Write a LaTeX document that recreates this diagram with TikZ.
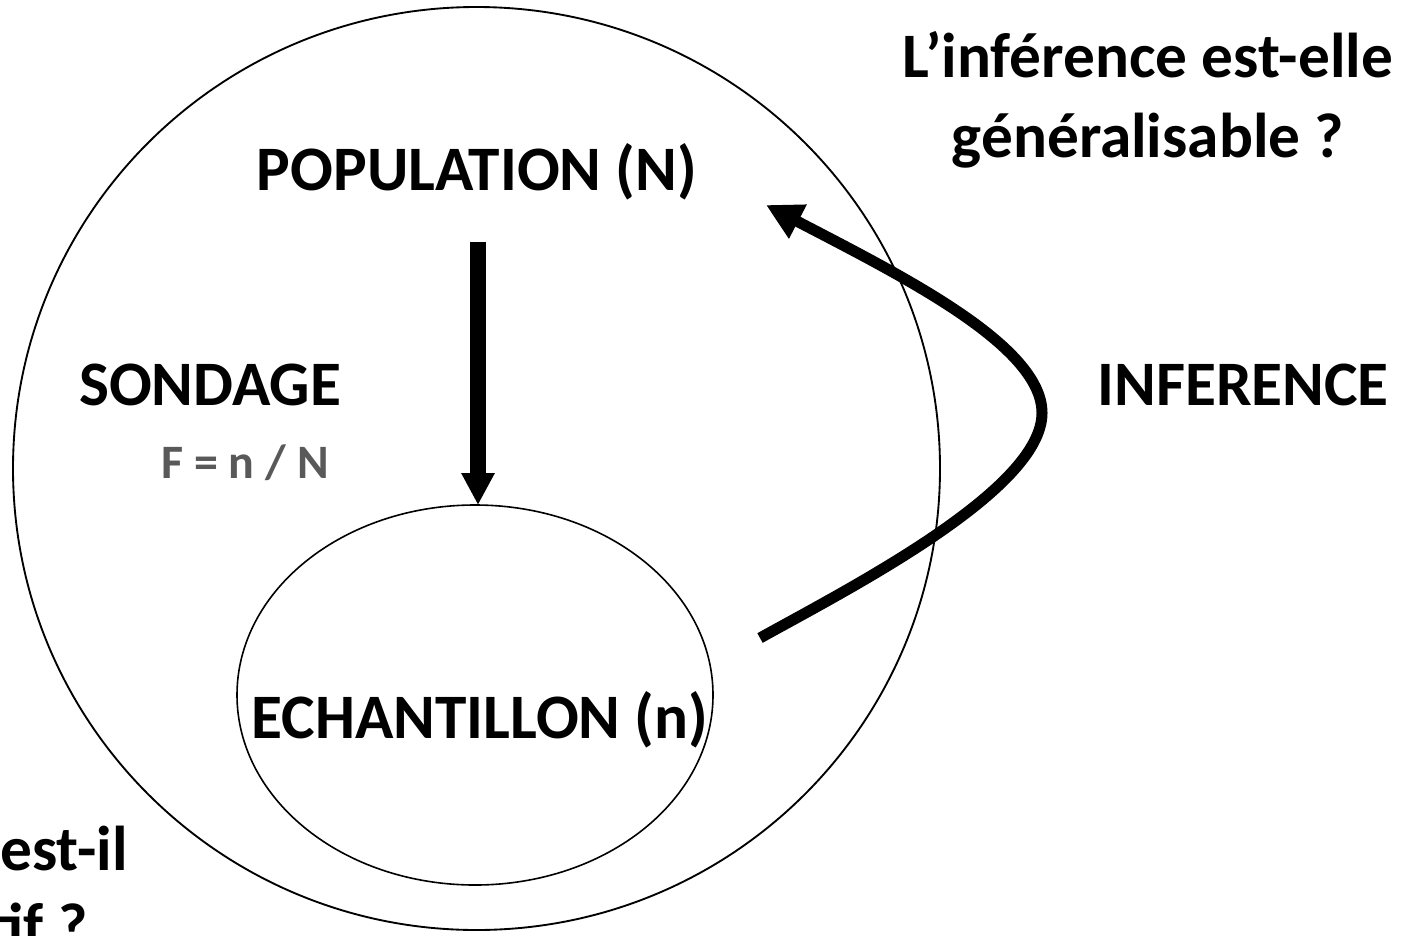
\documentclass[tikz,border=0pt]{standalone}
\usepackage{fontspec}
\setmainfont{Carlito}
\usetikzlibrary{arrows.meta}
\definecolor{fgrey}{RGB}{89,89,89}

\begin{document}
\begin{tikzpicture}[x=0.75pt,y=-0.75pt,line join=round,
    bigtxt/.style={font=\fontsize{47.5}{60}\selectfont\bfseries,
      inner sep=0pt,anchor=base},
    smalltxt/.style={font=\fontsize{36}{44}\selectfont\bfseries,
      text=fgrey,inner sep=0pt,anchor=base}]
    \useasboundingbox (0,0) rectangle (1419,935);
    \clip (0,0) rectangle (1419,935);

    % The population and the sample drawn from it.
    \draw[line width=1.4pt] (476.5,468.5) ellipse [x radius=463.5,y radius=461.5];
    \draw[line width=1.2pt] (475,695) ellipse [x radius=238,y radius=190];

    \node[bigtxt] (pop) at (477,190) {POPULATION (N)};
    \node[bigtxt] (ech) at (480,738) {ECHANTILLON (n)};
    \node[bigtxt] (sond) at (210,405) {SONDAGE};
    \node[smalltxt] (frac) at (245,478) {F = n / N};
    \node[bigtxt] (inf) at (1243,405) {INFERENCE};
    % anchor base is the baseline of the last line here
    \node[bigtxt,align=center] (gen) at (1148,157)
      {L’inférence est-elle\\généralisable ?};

    % The question at the lower left is cut by the frame.
    \node[bigtxt,anchor=base east] (rep1) at (128,870) {est-il};
    \node[bigtxt,anchor=base east] (rep2) at (88,947) {tif ?};

    % Sampling arrow and inference arrow.
    \coordinate (sondtop) at (478,242);
    \coordinate (sondtip) at (478,505);
    \draw[line width=12pt,-{Triangle[length=24pt,width=23.5pt]}]
      (sondtop) -- (sondtip);

    \coordinate (infstart) at (760,638);
    \coordinate (infturn) at (1042,413);
    \coordinate (infend) at (766,205);
    \draw[line width=8.25pt,-{Triangle[length=27pt,width=27pt]}]
      (infstart) .. controls (850,588) and (1042,490) .. (infturn)
      .. controls (1042,345) and (900,275) .. (infend);
\end{tikzpicture}
\end{document}
